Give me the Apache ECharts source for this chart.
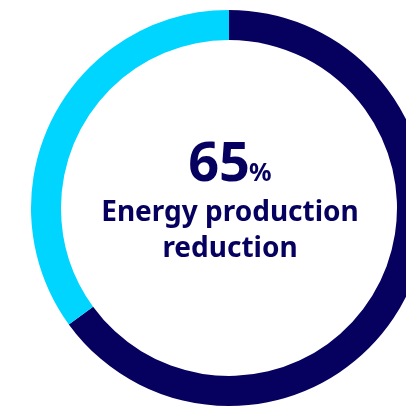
<!DOCTYPE html>
<html><head><meta charset="utf-8">
<script src="https://cdn.jsdelivr.net/npm/echarts@6/dist/echarts.min.js"></script>
<style>html,body{margin:0;padding:0;background:#fff}#c{width:406px;height:406px}</style>
</head><body><div id="c"></div>
<script>
const categories = ["Reduction", "Remaining"];
const values = [65, 35];
const colors = ["#06005f", "#00d5ff"];
const labelLines = ["Energy production", "reduction"];

const chart = echarts.init(document.getElementById('c'), null, {renderer: 'canvas'});
const font = '"Noto Sans", "Open Sans", sans-serif';
const navy = '#06005f';
chart.setOption({
  animation: false,
  series: [{
    type: 'pie',
    center: [229, 208],
    radius: [168, 198],
    startAngle: 90,
    clockwise: true,
    silent: true,
    label: {show: false},
    labelLine: {show: false},
    itemStyle: {borderWidth: 0},
    data: categories.map((n, i) => ({name: n, value: values[i], itemStyle: {color: colors[i]}}))
  }],
  graphic: [
    {type: 'text', silent: true, style: {text: String(values[0]), x: 250, y: 166, align: 'right', verticalAlign: 'middle',
      font: 'bold 54px ' + font, fill: navy}},
    {type: 'text', silent: true, style: {text: '%', x: 249, y: 174, align: 'left', verticalAlign: 'middle',
      font: 'bold 25px ' + font, fill: navy}},
    {type: 'text', silent: true, style: {text: labelLines[0], x: 230, y: 213, align: 'center', verticalAlign: 'middle',
      font: 'bold 28px ' + font, fill: navy}},
    {type: 'text', silent: true, style: {text: labelLines[1], x: 230, y: 249, align: 'center', verticalAlign: 'middle',
      font: 'bold 28px ' + font, fill: navy}}
  ]
});
</script></body></html>
